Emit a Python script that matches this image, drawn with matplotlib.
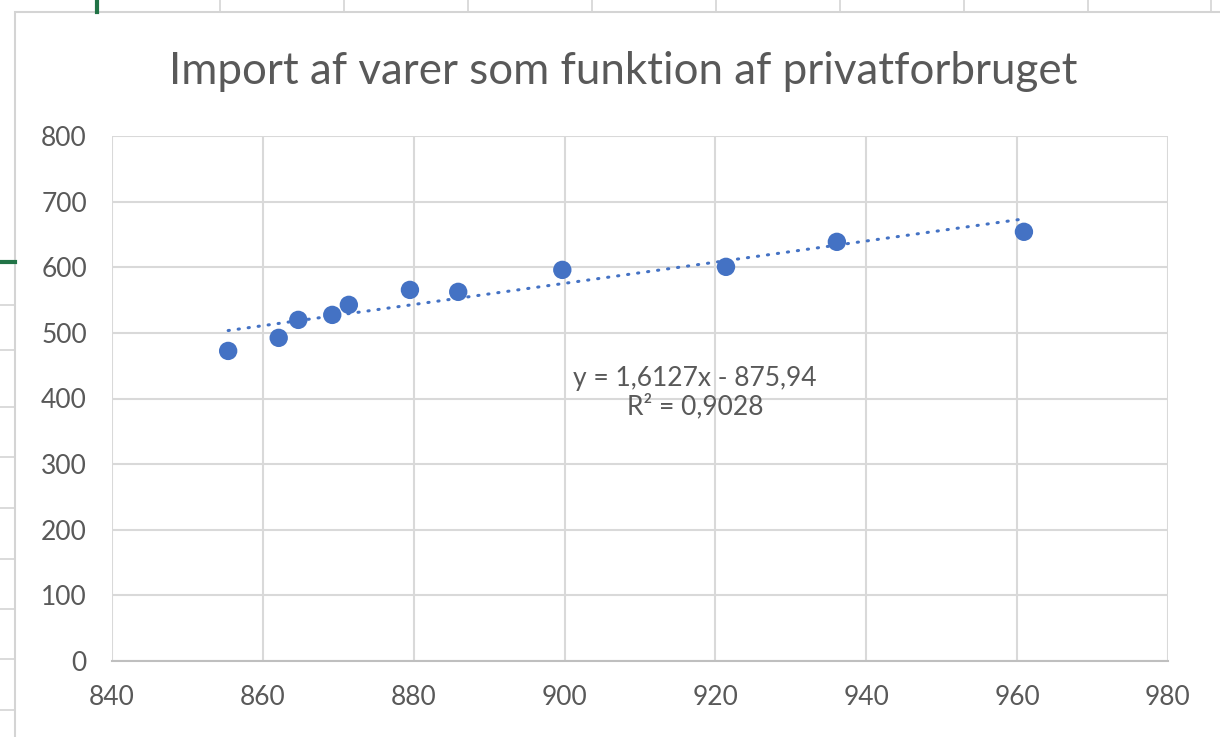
import matplotlib.pyplot as plt
from matplotlib.lines import Line2D
from matplotlib.patches import Rectangle
import numpy as np

# values
privatforbrug = [855.4, 862.1, 864.7, 869.2, 871.4, 879.5, 885.9, 899.7, 921.4, 936.1, 960.9]
import_varer = [472.5, 492.4, 519.8, 527.4, 542.7, 565.5, 562.5, 596.0, 600.6, 638.7, 654.0]
slope = 1.6127
intercept = -875.94
r_squared = 0.9028
x_ticks = [840, 860, 880, 900, 920, 940, 960, 980]
y_ticks = [0, 100, 200, 300, 400, 500, 600, 700, 800]
title = "Import af varer som funktion af privatforbruget"

BLUE = "#4472C4"
GRID = "#D9D9D9"
TEXT = "#595959"
FONT = ["Lato", "DejaVu Sans"]

plt.rcParams["font.family"] = FONT

W, H = 1220, 737
fig = plt.figure(figsize=(W / 100, H / 100), dpi=100)

# spreadsheet behind the chart, drawn in pixel coordinates
bg = fig.add_axes([0, 0, 1, 1])
bg.set_xlim(0, W)
bg.set_ylim(H, 0)
bg.axis("off")
for xc in (220, 344, 468, 592, 716, 840, 964, 1088, 1211):
    bg.add_line(Line2D([xc, xc], [0, 12], color="#D4D4D4", lw=1.2))
for yc in (305, 350, 407, 457, 508, 559, 609, 659, 710):
    bg.add_line(Line2D([0, 15], [yc, yc], color="#D4D4D4", lw=1.2))
bg.add_line(Line2D([97, 97], [0, 12], color="#217346", lw=3))
bg.add_line(Line2D([0, 15], [262, 262], color="#217346", lw=3))
bg.add_patch(Rectangle((15, 12), W, H, facecolor="white", edgecolor="#D4D4D4", lw=1.5))

fig.text(623 / W, 1 - 71 / H, title, ha="center", va="center", fontsize=31.6, color=TEXT)

ax = fig.add_axes([112 / W, 1 - 661 / H, (1168 - 112) / W, (661 - 136) / H])
ax.set_facecolor("none")

fit_x = np.array([min(privatforbrug), max(privatforbrug)])
ax.plot(fit_x, slope * fit_x + intercept, color=BLUE, lw=2.2,
        linestyle=(0, (0.4, 2.9)), dash_capstyle="round", zorder=2)
ax.scatter(privatforbrug, import_varer, s=175, color=BLUE, edgecolors="none", zorder=3)

eq = f"y = {slope:.4f}x - {abs(intercept):.2f}".replace(".", ",")
r2 = f"R² = {r_squared:.4f}".replace(".", ",")
ax.text(917.3, 409, eq + "\n" + r2, ha="center", va="center", multialignment="center",
        fontsize=19, color=TEXT, linespacing=1.15)

ax.set_xlim(840, 980)
ax.set_ylim(0, 800)
ax.set_xticks(x_ticks)
ax.set_yticks(y_ticks)
ax.grid(True, color=GRID, lw=1.5)
ax.set_axisbelow(True)
for side in ("top", "right", "left"):
    ax.spines[side].set_visible(False)
ax.spines["bottom"].set_color("#BFBFBF")
ax.spines["bottom"].set_linewidth(1.5)
ax.tick_params(length=0, labelsize=19, labelcolor=TEXT)
ax.tick_params(axis="y", pad=18)
ax.tick_params(axis="x", pad=17)

fig.savefig("out.png", dpi=100)
